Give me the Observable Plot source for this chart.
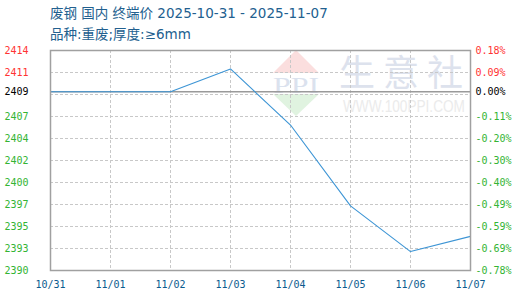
<!DOCTYPE html>
<html><head><meta charset="utf-8">
<script src="https://cdn.jsdelivr.net/npm/d3@7"></script>
<script src="https://cdn.jsdelivr.net/npm/@observablehq/plot@0.6"></script>
<style>
body{margin:0;background:#fff;width:520px;height:300px;overflow:hidden;position:relative;font-family:"DejaVu Sans","Noto Sans CJK SC",sans-serif}
#title{position:absolute;left:50px;top:3px;font-size:13.5px;line-height:21px;color:#22608f;white-space:nowrap}
#wm{position:absolute;left:0;top:0}
#chart{position:absolute;left:0;top:46px}
</style></head><body>
<svg id="wm" width="520" height="300">
  <polygon points="273,73 296,50 319,73" fill="#fbdede"/>
  <text x="296" y="93" text-anchor="middle" font-family="Liberation Serif" font-size="24" textLength="46" lengthAdjust="spacingAndGlyphs" fill="#dbe2ee">PPI</text>
  <polygon points="273,94 319,94 296,116" fill="#e0f3e0"/>
  <text x="405" y="86" text-anchor="middle" font-family="Noto Sans CJK SC" font-size="36" letter-spacing="8" fill="#dde2ed">生意社</text>
  <text x="404" y="112" text-anchor="middle" font-family="Liberation Sans" font-size="14" textLength="122" lengthAdjust="spacingAndGlyphs" fill="#ebebeb" transform="translate(404 112) scale(1 1.15) translate(-404 -112)">WWW.100PPI.COM</text>
</svg>
<div id="title"><div>废钢 国内 终端价 2025-10-31 - 2025-11-07</div><div>品种:重废;厚度:≥6mm</div></div>
<div id="chart"></div>
<script>
const dates = ["10/31","11/01","11/02","11/03","11/04","11/05","11/06","11/07"];
const prices = [2409, 2409, 2409, 2411.4, 2405.5, 2397, 2392.2, 2393.8];
const basePrice = 2409;
const baseLabel = "2409";
const basePctLabel = "0.00%";
const gridPct = [0.18, 0.084, -0.012, -0.108, -0.204, -0.3, -0.396, -0.492, -0.588, -0.684, -0.78];
const leftLabels = ["2414","2411","","2407","2404","2402","2400","2397","2395","2393","2390"];
const rightLabels = ["0.18%","0.09%","","-0.11%","-0.20%","-0.30%","-0.40%","-0.49%","-0.59%","-0.69%","-0.78%"];

const red = "#ff3333", green = "#33b433", black = "#000";
const data = dates.map((d, i) => ({date: d, pct: (prices[i] / basePrice - 1) * 100}));
const col = d => d > 0.001 ? red : (d < -0.001 ? green : black);
const tickRows = gridPct.map((p, i) => ({p, left: leftLabels[i], right: rightLabels[i]})).filter(r => r.left !== "");

const chart = Plot.plot({
  width: 520, height: 254,
  marginLeft: 50, marginRight: 50, marginTop: 4, marginBottom: 30,
  style: {fontFamily: "DejaVu Sans Mono", fontSize: "10px", background: "transparent"},
  x: {type: "point", domain: dates, padding: 0, axis: null},
  y: {domain: [gridPct[gridPct.length - 1], gridPct[0]], axis: null},
  marks: [
    Plot.ruleY(gridPct, {stroke: "#c8c8c8", strokeDasharray: "3,2"}),
    Plot.ruleX(dates.slice(1, -1), {stroke: "#c8c8c8", strokeDasharray: "3,2"}),
    Plot.ruleY([0], {stroke: "#9a9a9a", strokeWidth: 1.5}),
    Plot.line(data, {x: "date", y: "pct", stroke: "#3d95d5", strokeWidth: 1.1}),
    Plot.frame({stroke: "#a0a0a0", strokeWidth: 1.5}),
    Plot.text(tickRows, {y: "p", frameAnchor: "left", textAnchor: "end", dx: -22, text: "left", fill: d => col(d.p)}),
    Plot.text(tickRows, {y: "p", frameAnchor: "right", textAnchor: "start", dx: 5, text: "right", fill: d => col(d.p)}),
    Plot.text([0], {y: d => d, frameAnchor: "left", textAnchor: "end", dx: -22, text: () => baseLabel, fill: black}),
    Plot.text([0], {y: d => d, frameAnchor: "right", textAnchor: "start", dx: 5, text: () => basePctLabel, fill: black}),
    Plot.text(dates, {x: d => d, frameAnchor: "bottom", dy: 17, text: d => d, fill: "#0b5a8e"})
  ]
});
document.getElementById("chart").appendChild(chart);
</script>
</body></html>
